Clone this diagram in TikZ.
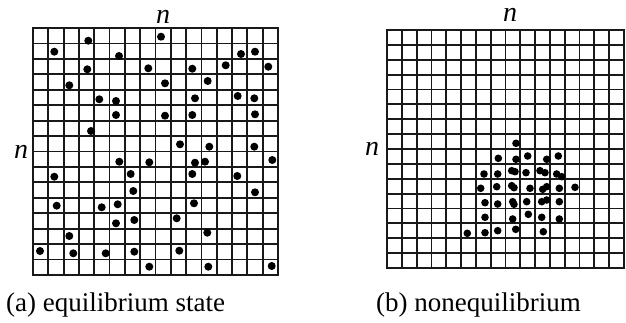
\documentclass[tikz,border=0pt]{standalone}
\usepackage{fontspec}
\setmainfont{Liberation Serif}
\usepackage{tikz}

\begin{document}
\begin{tikzpicture}[
    x=1pt, y=-1pt,
    gridline/.style={line width=1.8pt, black!90, line cap=rect},
    particle/.style={fill=black},
    sizelabel/.style={font=\fontsize{28}{32}\selectfont\itshape, inner sep=0pt},
    caption/.style={font=\fontsize{27}{31}\selectfont, inner sep=0pt, anchor=base west}
]
    \useasboundingbox (0,0) rectangle (626,323);

    % Lattice (a): equilibrium
    \foreach \i in {0,...,16} {
        \draw[gridline] ({33+\i*15.3125},28) -- ({33+\i*15.3125},275);
        \draw[gridline] (33,{28+\i*15.4375}) -- (278,{28+\i*15.4375});
    }
    \foreach \px/\py in {88.3/40.7, 161/36.7, 54.3/51.7, 119/56, 241/54, 255/51.7,
        87.3/69.3, 148.3/68.3, 192.3/68.7, 225.7/65.3, 268.3/66.7, 69.3/85.3,
        165/83.3, 207.7/81, 99.3/99.3, 116/101, 195/98.3, 237.7/96, 254.3/98.3,
        116/115, 165/115.7, 192.3/115, 255/114.3, 91/131, 180/144.3, 209.3/146.7,
        254.3/146.7, 119.3/161.7, 149.3/162.3, 195/162.7, 205/161.7, 272.3/160,
        54.3/176.7, 130.7/174, 192.3/174, 237.3/176, 133.3/191, 255/192.3,
        56.7/205.7, 101.7/207.3, 117.7/204.3, 194/203.3, 116/223.3, 134.3/220,
        176.7/218.3, 69.3/236, 207.3/232.7, 40/251, 73.3/253.3, 105.7/253.3,
        134.3/251.7, 179.3/250.7, 149.3/266.7, 208.3/266.7, 271.7/266}
        \fill[particle] (\px,\py) circle[radius=4pt];

    % Lattice (b): nonequilibrium
    \foreach \i in {0,...,16} {
        \draw[gridline] ({387+\i*14.8125},30) -- ({387+\i*14.8125},268);
        \draw[gridline] (387,{30+\i*14.875}) -- (624,{30+\i*14.875});
    }
    \foreach \px/\py in {516/143.3, 498.3/158.3, 516/159.3, 527.7/156, 546.7/159.3,
        558.3/156, 484/174, 497.7/174, 511.7/170.7, 515/171.7, 526/172.7,
        540/170.7, 545/172.7, 556.7/174, 561.7/176.7, 480.7/188.3, 496.7/186.7,
        511.7/185.7, 514/187.7, 530/188.3, 542.7/189.3, 546.7/186.7, 559.3/188.3,
        575/187.3, 485/202.7, 497.7/204, 512.7/201.7, 514/204.3, 526.7/201.7,
        541.7/201.7, 546.7/200, 559.3/201.7, 485/217.3, 512.7/219, 528.3/214.3,
        541.7/217.3, 559.3/219, 467.3/233.3, 485/232.7, 497.7/230.7, 515.7/229.3,
        543.3/231.7}
        \fill[particle] (\px,\py) circle[radius=3.8pt];

    % Size labels
    \node[sizelabel] (nTopA) at (163,17) {n};
    \node[sizelabel] (nSideA) at (21,152) {n};
    \node[sizelabel] (nTopB) at (510,15) {n};
    \node[sizelabel] (nSideB) at (372,149) {n};

    % Captions
    \node[caption] (capA) at (6,311) {(a) equilibrium state};
    \node[caption] (capB) at (376,311) {(b) nonequilibrium};
\end{tikzpicture}
\end{document}
